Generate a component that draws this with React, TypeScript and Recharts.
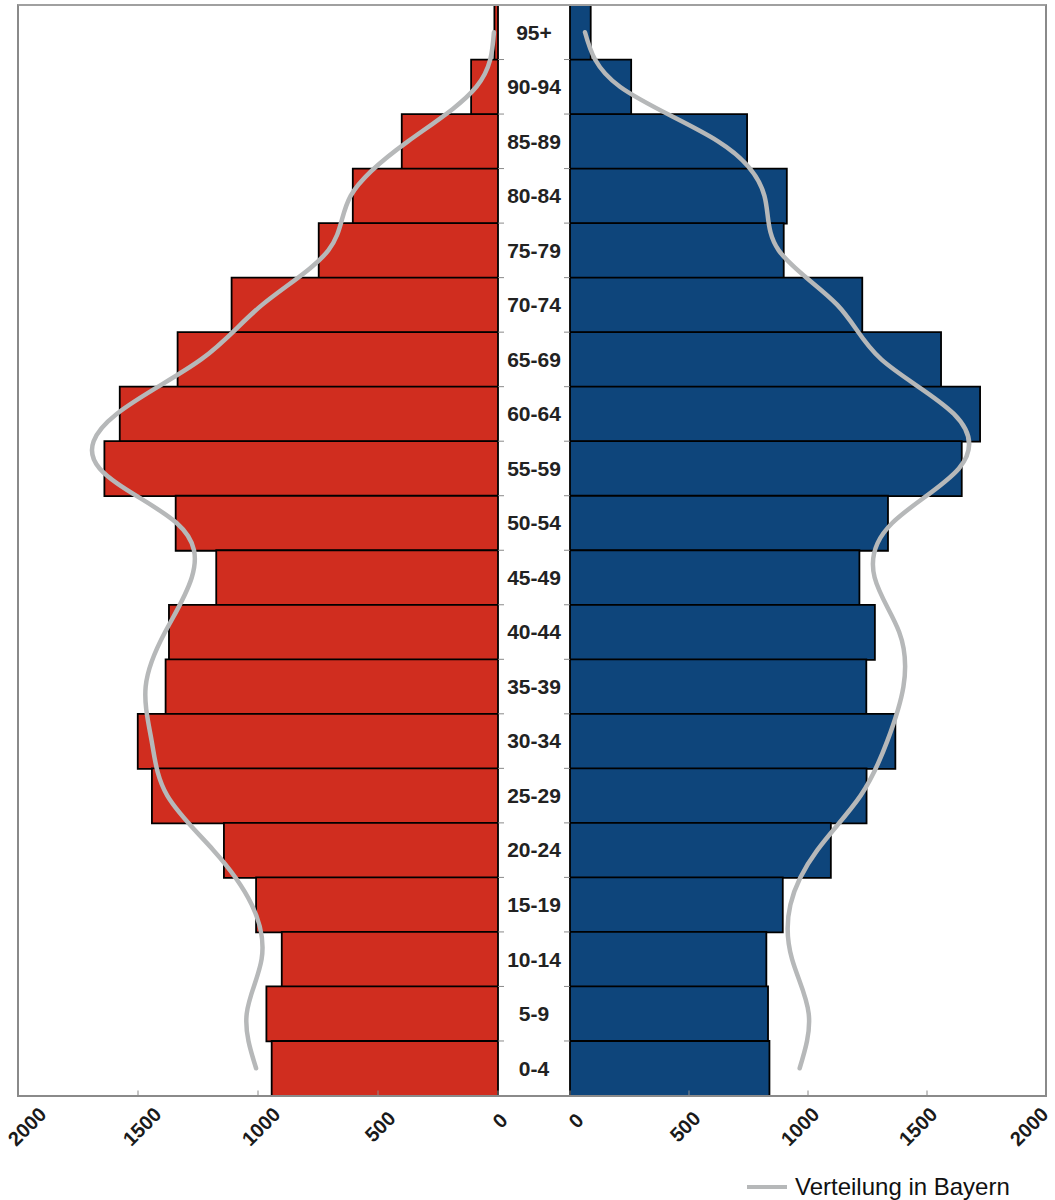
import React from "react";
import { ComposedChart, Bar, Line, XAxis, YAxis } from "recharts";

const altersgruppen = [
  "95+", "90-94", "85-89", "80-84", "75-79", "70-74", "65-69", "60-64", "55-59", "50-54",
  "45-49", "40-44", "35-39", "30-34", "25-29", "20-24", "15-19", "10-14", "5-9", "0-4",
];

// linke Seite (rot)
const maenner = [15, 112, 401, 605, 747, 1110, 1335, 1576, 1640, 1343, 1174, 1371, 1385, 1501, 1442, 1142, 1008, 901, 965, 943];
// rechte Seite (blau)
const frauen = [87, 257, 744, 911, 898, 1228, 1559, 1723, 1646, 1336, 1216, 1281, 1245, 1367, 1246, 1096, 894, 825, 832, 838];

// Verteilung in Bayern (graue Kurven)
const bayernMaenner = [17, 90, 375, 614, 707, 983, 1237, 1589, 1660, 1339, 1276, 1387, 1468, 1443, 1378, 1186, 1026, 985, 1047, 1008];
const bayernFrauen = [63, 210, 622, 817, 877, 1123, 1308, 1613, 1634, 1354, 1280, 1383, 1401, 1333, 1221, 1039, 926, 933, 1003, 965];

const achsenTicks = [0, 500, 1000, 1500, 2000];

const data = altersgruppen.map((age, i) => ({
  age,
  maenner: maenner[i],
  frauen: frauen[i],
  bayernM: bayernMaenner[i],
  bayernF: bayernFrauen[i],
}));

const FONT = '"Liberation Sans", Arial, Helvetica, sans-serif';
const ROT = "#d02d1f";
const BLAU = "#0e457b";
const GRAU = "#b6b8b9";
const RAHMEN = "#8a8a8a";

// horizontale Verschiebung der gedrehten Beschriftungen
const shiftLinks: Record<number, number> = { 0: 2, 500: 2, 1000: 3, 1500: 4, 2000: 9 };
const shiftRechts: Record<number, number> = { 0: 6, 500: -4, 1000: -8, 1500: -9, 2000: -17 };

function ValueTick(props: any) {
  const { x, y, payload, shifts } = props;
  const tx = x + (shifts?.[payload.value] ?? 0);
  const ty = y + (payload.value === 0 ? 25 : 31);
  return (
    <g>
      <line x1={x} x2={x} y1={y - 5} y2={y} stroke={RAHMEN} strokeWidth={1} />
      <text
        x={tx}
        y={ty}
        dy="0.35em"
        transform={`rotate(-45 ${tx} ${ty})`}
        textAnchor="middle"
        fontFamily={FONT}
        fontWeight="bold"
        fontSize={20}
        fill="#1a1a1a"
      >
        {payload.value}
      </text>
    </g>
  );
}

function AgeTick(props: any) {
  const { x, y, payload } = props;
  const half = payload.offset ?? 27;
  return (
    <g>
      <text
        x={x - 36}
        y={y}
        dy="0.35em"
        textAnchor="middle"
        fontFamily={FONT}
        fontWeight="bold"
        fontSize={21}
        fill="#222"
      >
        {payload.value}
      </text>
      <line x1={x - 72} x2={x - 66} y1={y + half} y2={y + half} stroke={RAHMEN} strokeWidth={1} />
      <line x1={x - 6} x2={x} y1={y + half} y2={y + half} stroke={RAHMEN} strokeWidth={1} />
    </g>
  );
}

export default function App() {
  return (
    <div
      style={{
        position: "absolute",
        left: 0,
        top: 0,
        width: 1055,
        height: 1200,
        background: "#fff",
        overflow: "hidden",
      }}
    >
      <div style={{ position: "absolute", left: -30, top: 0 }}>
        <ComposedChart
          layout="vertical"
          width={560}
          height={1200}
          data={data}
          margin={{ top: 5, right: 32, bottom: 4.5, left: 48 }}
          barCategoryGap={0}
        >
          <XAxis
            type="number"
            domain={[0, 2000]}
            ticks={achsenTicks}
            reversed
            height={100}
            axisLine={false}
            tickLine={false}
            tickSize={0}
            tickMargin={0}
            interval={0}
            tick={<ValueTick shifts={shiftLinks} />}
          />
          <YAxis type="category" dataKey="age" hide width={0} />
          <Bar dataKey="maenner" fill={ROT} stroke="#000" strokeWidth={1.8} isAnimationActive={false} />
          <Line
            dataKey="bayernM"
            type="natural"
            stroke={GRAU}
            strokeWidth={4.5}
            strokeLinecap="round"
            dot={false}
            activeDot={false}
            isAnimationActive={false}
          />
        </ComposedChart>
      </div>
      <div style={{ position: "absolute", left: 498, top: 0 }}>
        <ComposedChart
          layout="vertical"
          width={590}
          height={1200}
          data={data}
          margin={{ top: 5, right: 42, bottom: 4.5, left: 0 }}
          barCategoryGap={0}
        >
          <XAxis
            type="number"
            domain={[0, 2000]}
            ticks={achsenTicks}
            height={100}
            axisLine={false}
            tickLine={false}
            tickSize={0}
            tickMargin={0}
            interval={0}
            tick={<ValueTick shifts={shiftRechts} />}
          />
          <YAxis
            type="category"
            dataKey="age"
            width={72}
            axisLine={false}
            tickLine={false}
            tickSize={0}
            tickMargin={0}
            interval={0}
            tick={<AgeTick />}
          />
          <Bar dataKey="frauen" fill={BLAU} stroke="#000" strokeWidth={1.8} isAnimationActive={false} />
          <Line
            dataKey="bayernF"
            type="natural"
            stroke={GRAU}
            strokeWidth={4.5}
            strokeLinecap="round"
            dot={false}
            activeDot={false}
            isAnimationActive={false}
          />
        </ComposedChart>
      </div>
      <div
        style={{
          position: "absolute",
          left: 17,
          top: 4,
          width: 1030,
          height: 1093,
          border: `2px solid ${RAHMEN}`,
          borderTopColor: "#a0a0a0",
          boxSizing: "border-box",
          pointerEvents: "none",
        }}
      />
      <div
        style={{
          position: "absolute",
          left: 747,
          top: 1174,
          display: "flex",
          alignItems: "center",
          fontFamily: FONT,
          fontSize: 24,
          lineHeight: "26px",
          color: "#111",
          whiteSpace: "nowrap",
        }}
      >
        <span style={{ display: "inline-block", width: 40, height: 4, background: GRAU, marginRight: 8 }} />
        <span>Verteilung in Bayern</span>
      </div>
    </div>
  );
}
